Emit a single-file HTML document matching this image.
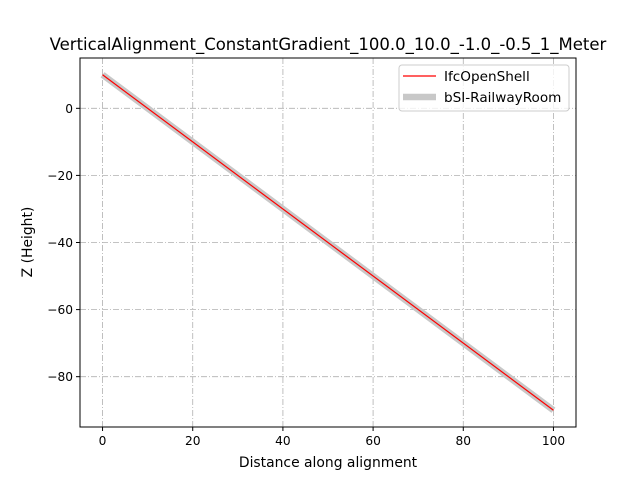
<!DOCTYPE html>
<html><head><meta charset="utf-8"><style>
body{margin:0;background:#fff;}
text{font-family:"DejaVu Sans","Liberation Sans",sans-serif;}
</style></head><body>
<svg id="chart" width="640" height="480" xmlns="http://www.w3.org/2000/svg">
<rect width="640" height="480" fill="#fff"/>
<text x="328" y="50" font-size="16.5" text-anchor="middle">VerticalAlignment_ConstantGradient_100.0_10.0_-1.0_-0.5_1_Meter</text>
<g id="grid"></g>
<g id="series"></g>
<rect x="80" y="58" width="496" height="369" fill="none" stroke="#000" stroke-width="1"/>
<g id="ticks"></g>
<text x="328" y="467" font-size="13.9" text-anchor="middle">Distance along alignment</text>
<text transform="translate(32,242) rotate(-90)" font-size="13.9" text-anchor="middle">Z (Height)</text>
<g>
<rect x="399" y="65" width="170" height="46" rx="3" fill="#fff" fill-opacity="0.8" stroke="#ccc"/>
<line x1="403" y1="76" x2="436" y2="76" stroke="#ff0000" stroke-width="1.2"/>
<text x="444" y="81" font-size="13.6">IfcOpenShell</text>
<line x1="403" y1="97" x2="436" y2="97" stroke="#c8c8c8" stroke-width="6.5"/>
<text x="444" y="102" font-size="13.6">bSI-RailwayRoom</text>
</g>
</svg>
<script>
const xTicks=[0,20,40,60,80,100];
const yTicks=[0,-20,-40,-60,-80];
const distance=[0,100];
const ifcHeight=[10,-90];
const bsiHeight=[10,-90];
const X0=80,X1=576,Y0=58,Y1=427,XMIN=-5,XMAX=105,YMIN=-95,YMAX=15;
const sx=v=>X0+(v-XMIN)/(XMAX-XMIN)*(X1-X0);
const sy=v=>Y1-(v-YMIN)/(YMAX-YMIN)*(Y1-Y0);
const NS="http://www.w3.org/2000/svg";
function mk(tag,attrs,parent){const e=document.createElementNS(NS,tag);for(const k in attrs)e.setAttribute(k,attrs[k]);document.getElementById(parent).appendChild(e);return e;}
xTicks.forEach(t=>{const x=sx(t);
 const g=mk('line',{x1:x,x2:x,y1:Y0,y2:Y1,stroke:'#b0b0b0','stroke-width':0.8,'stroke-dasharray':'6,2,1,2'},'grid');
 
 
 const l=mk('line',{x1:x,x2:x,y1:Y1,y2:Y1+4,stroke:'#000'},'ticks');
 
 
 const tx=mk('text',{x:x,y:Y1+18,'font-size':12.2,'text-anchor':'middle'},'ticks');tx.textContent=t;
 
 
});
yTicks.forEach(t=>{const y=sy(t);
 const g=mk('line',{x1:X0,x2:X1,y1:y,y2:y,stroke:'#b0b0b0','stroke-width':0.8,'stroke-dasharray':'6,2,1,2'},'grid');
 
 
 const l=mk('line',{x1:X0-4,x2:X0,y1:y,y2:y,stroke:'#000'},'ticks');
 
 
 const tx=mk('text',{x:X0-7,y:y+4.5,'font-size':12.2,'text-anchor':'end'},'ticks');tx.textContent=t===0?'0':'\u2212'+Math.abs(t);
 
 
});
const pts=h=>distance.map((d,i)=>sx(d)+','+sy(h[i])).join(' ');
const b=mk('polyline',{points:pts(bsiHeight),fill:'none',stroke:'#c8c8c8','stroke-width':6.5},'series');


const r=mk('polyline',{points:pts(ifcHeight),fill:'none',stroke:'#ff0000','stroke-width':1.2},'series');


</script>
</body></html>
